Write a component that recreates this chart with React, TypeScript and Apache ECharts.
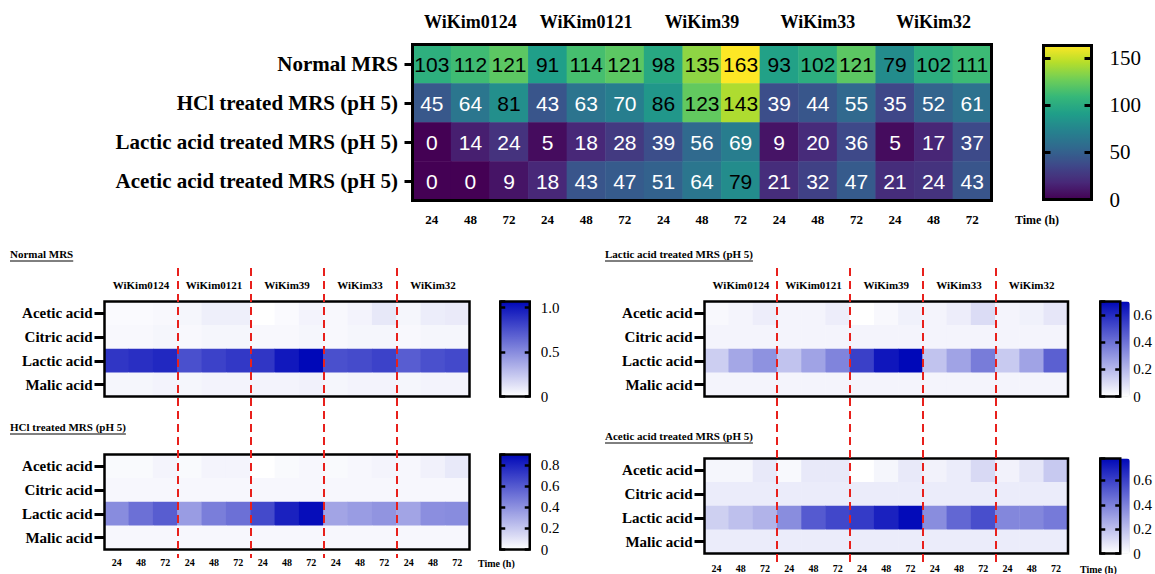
import React, { useEffect, useRef } from "react";
import * as echarts from "echarts";

// ---------------- DATA ----------------
const strains = ["WiKim0124", "WiKim0121", "WiKim39", "WiKim33", "WiKim32"];
const times = ["24", "48", "72"];
const media = [
  "Normal MRS",
  "HCl treated MRS (pH 5)",
  "Lactic acid treated MRS (pH 5)",
  "Acetic acid treated MRS (pH 5)",
];

// growth values (top heatmap), 15 columns = 5 strains x 3 times
const normalGrowth = [103, 112, 121, 91, 114, 121, 98, 135, 163, 93, 102, 121, 79, 102, 111];
const hclGrowth = [45, 64, 81, 43, 63, 70, 86, 123, 143, 39, 44, 55, 35, 52, 61];
const lacticGrowth = [0, 14, 24, 5, 18, 28, 39, 56, 69, 9, 20, 36, 5, 17, 37];
const aceticGrowth = [0, 0, 9, 18, 43, 47, 51, 64, 79, 21, 32, 47, 21, 24, 43];
const growthMax = 163;
const growthTickStep = 50;

const acids = ["Acetic acid", "Citric acid", "Lactic acid", "Malic acid"];

// Normal MRS organic acids
const normalAcetic = [0.02, 0.02, 0.03, 0.04, 0.07, 0.07, 0.0, 0.02, 0.05, 0.03, 0.05, 0.1, 0.04, 0.08, 0.09];
const normalCitric = [0.03, 0.03, 0.04, 0.03, 0.04, 0.04, 0.03, 0.03, 0.04, 0.03, 0.04, 0.04, 0.03, 0.04, 0.04];
const normalLactic = [0.87, 0.9, 0.93, 0.76, 0.82, 0.86, 0.87, 1.0, 1.07, 0.76, 0.78, 0.82, 0.7, 0.76, 0.79];
const normalMalic = [0.04, 0.04, 0.05, 0.04, 0.05, 0.05, 0.05, 0.05, 0.06, 0.04, 0.05, 0.05, 0.04, 0.05, 0.05];
const normalMax = 1.07;
const normalTickStep = 0.5;

// HCl treated MRS (pH 5)
const hclAcetic = [0.02, 0.02, 0.04, 0.02, 0.04, 0.04, 0.0, 0.02, 0.03, 0.02, 0.03, 0.04, 0.03, 0.05, 0.08];
const hclCitric = [0.03, 0.03, 0.03, 0.03, 0.03, 0.03, 0.03, 0.03, 0.03, 0.03, 0.03, 0.03, 0.03, 0.03, 0.03];
const hclLactic = [0.42, 0.52, 0.59, 0.36, 0.47, 0.52, 0.66, 0.81, 0.88, 0.33, 0.36, 0.39, 0.33, 0.41, 0.42];
const hclMalic = [0.03, 0.03, 0.03, 0.03, 0.03, 0.03, 0.03, 0.03, 0.03, 0.03, 0.03, 0.03, 0.03, 0.03, 0.03];
const hclMax = 0.9;
const hclTickStep = 0.2;

// Lactic acid treated MRS (pH 5)
const lacAcetic = [0.02, 0.03, 0.05, 0.03, 0.03, 0.05, 0.0, 0.02, 0.04, 0.03, 0.05, 0.1, 0.03, 0.04, 0.07];
const lacCitric = [0.03, 0.03, 0.03, 0.03, 0.03, 0.03, 0.03, 0.03, 0.03, 0.03, 0.03, 0.03, 0.03, 0.03, 0.03];
const lacLactic = [0.14, 0.25, 0.31, 0.17, 0.26, 0.35, 0.54, 0.66, 0.7, 0.17, 0.26, 0.37, 0.15, 0.26, 0.45];
const lacMalic = [0.03, 0.03, 0.03, 0.03, 0.03, 0.03, 0.03, 0.03, 0.03, 0.03, 0.03, 0.03, 0.03, 0.03, 0.03];
const lacMax = 0.7;
const lacTickStep = 0.2;

// Acetic acid treated MRS (pH 5)
const aceAcetic = [0.03, 0.03, 0.07, 0.02, 0.07, 0.07, 0.0, 0.03, 0.07, 0.04, 0.06, 0.12, 0.04, 0.08, 0.17];
const aceCitric = [0.06, 0.06, 0.06, 0.06, 0.06, 0.06, 0.06, 0.06, 0.06, 0.06, 0.06, 0.06, 0.06, 0.06, 0.06];
const aceLactic = [0.15, 0.2, 0.24, 0.36, 0.52, 0.58, 0.62, 0.7, 0.77, 0.36, 0.48, 0.56, 0.38, 0.38, 0.42];
const aceMalic = [0.06, 0.06, 0.06, 0.06, 0.06, 0.06, 0.06, 0.06, 0.06, 0.06, 0.06, 0.06, 0.06, 0.06, 0.06];
const aceMax = 0.78;
const aceTickStep = 0.2;

// ---------------- STYLE / LAYOUT ----------------
const SERIF = '"Liberation Serif", "Times New Roman", serif';
const SANS = '"Liberation Sans", Arial, sans-serif';
const viridis = ["#440154", "#482878", "#3e4989", "#31688e", "#26828e", "#1f9e89", "#35b779", "#6ece58", "#b5de2b", "#fde725"];
const blues = ["#ffffff", "#0008b8"];

const TOP_GRID = { left: 412.5, top: 44.5, width: 579, height: 156 };
const TOP_BAR = { left: 1043.5, top: 45.5, width: 48, height: 154 };

const panels = [
  {
    title: "Normal MRS", titleX: 10, titleY: 254,
    rows: [normalAcetic, normalCitric, normalLactic, normalMalic], max: normalMax, step: normalTickStep,
    grid: { left: 104.5, top: 301.5, width: 365, height: 95 },
    bar: { left: 500.25, top: 301.5, width: 29.5, height: 95 }, barMargin: 11,
    strainsOn: true, timesOn: false, timeMargin: 8,
  },
  {
    title: "HCl treated MRS (pH 5)", titleX: 10, titleY: 427,
    rows: [hclAcetic, hclCitric, hclLactic, hclMalic], max: hclMax, step: hclTickStep,
    grid: { left: 104.5, top: 454.5, width: 365, height: 95 },
    bar: { left: 500.25, top: 454.5, width: 29.5, height: 95 }, barMargin: 11,
    strainsOn: false, timesOn: true, timeMargin: 8, timeLabelX: 478,
  },
  {
    title: "Lactic acid treated MRS (pH 5)", titleX: 605, titleY: 254,
    rows: [lacAcetic, lacCitric, lacLactic, lacMalic], max: lacMax, step: lacTickStep,
    grid: { left: 704.5, top: 301.5, width: 363.5, height: 95 },
    bar: { left: 1100.25, top: 301.5, width: 29.5, height: 95 }, barMargin: 13,
    strainsOn: true, timesOn: false, timeMargin: 9,
  },
  {
    title: "Acetic acid treated MRS (pH 5)", titleX: 605, titleY: 436,
    rows: [aceAcetic, aceCitric, aceLactic, aceMalic], max: aceMax, step: aceTickStep,
    grid: { left: 704.5, top: 458.5, width: 363.5, height: 95 },
    bar: { left: 1100.25, top: 458.5, width: 29.5, height: 95 }, barMargin: 13,
    strainsOn: false, timesOn: true, timeMargin: 9.5, timeLabelX: 1080,
  },
];

const DASH_GRIDS = [
  { left: 104.5, top: 268, width: 365, height: 290 },
  { left: 704.5, top: 268, width: 363.5, height: 298 },
];

function measure(text: string, font: string): number {
  const c = document.createElement("canvas").getContext("2d");
  if (!c) return text.length * 5;
  c.font = font;
  return c.measureText(text).width;
}

function buildOption() {
  const grid: any[] = [];
  const xAxis: any[] = [];
  const yAxis: any[] = [];
  const series: any[] = [];
  const visualMap: any[] = [];
  const graphic: any[] = [];
  const columns = strains.flatMap((s) => times.map((t) => `${s}|${t}`));

  const lbl = (size: number, weight: string, margin: number) => ({
    fontFamily: SERIF, fontWeight: weight, fontSize: size, color: "#000", margin, interval: 0,
  });
  const noLine = { show: false };

  const addColorbar = (
    layout: any, max: number, step: number, lw: number, tickLen: number,
    fontSize: number, margin: number, fmt: (v: number) => string
  ) => {
    const gi = grid.push({ ...layout, show: true, backgroundColor: "transparent", borderColor: "#000", borderWidth: lw, z: 10 }) - 1;
    xAxis.push({ gridIndex: gi, type: "value", show: false });
    const common = {
      gridIndex: gi, type: "value", min: 0, max, interval: step,
      axisLine: noLine, splitLine: noLine, z: 11,
      axisTick: { show: true, inside: true, length: tickLen, lineStyle: { color: "#000", width: lw } },
    };
    yAxis.push({ ...common, position: "left", axisLabel: { show: false } });
    yAxis.push({
      ...common, position: "right",
      axisLabel: { show: true, showMaxLabel: false, fontFamily: SERIF, fontSize, color: "#000", margin, formatter: fmt },
    });
  };

  // ---------- top heatmap ----------
  const g0 = grid.push({ ...TOP_GRID, show: true, backgroundColor: "transparent", borderColor: "#000", borderWidth: 3, z: 10 }) - 1;
  const xTop = xAxis.push({
    gridIndex: g0, type: "category", data: columns, position: "bottom",
    axisLine: noLine, axisTick: noLine, splitLine: noLine,
    axisLabel: { ...lbl(13, "bold", 12), formatter: (v: string) => v.split("|")[1] },
  }) - 1;
  xAxis.push({
    gridIndex: g0, type: "category", data: strains, position: "top",
    axisLine: noLine, axisTick: noLine, splitLine: noLine, axisLabel: lbl(18, "bold", 14),
  });
  const yTop = yAxis.push({
    gridIndex: g0, type: "category", data: media, inverse: true,
    axisLine: noLine, splitLine: noLine,
    axisTick: { show: true, alignWithLabel: true, length: 8, lineStyle: { color: "#000", width: 3 } },
    axisLabel: lbl(21, "bold", 14.5),
  }) - 1;
  const growth = [normalGrowth, hclGrowth, lacticGrowth, aceticGrowth];
  const topData: any[] = [];
  growth.forEach((row, r) =>
    row.forEach((v, c) => topData.push({ value: [c, r, v], label: { color: v >= 75 ? "#000" : "#fff" } }))
  );
  const sTop = series.push({
    type: "heatmap", xAxisIndex: xTop, yAxisIndex: yTop, data: topData,
    label: { show: true, fontFamily: SANS, fontSize: 21, formatter: (p: any) => String(p.value[2]) },
    emphasis: { disabled: true },
  }) - 1;
  visualMap.push({
    type: "continuous", seriesIndex: sTop, min: 0, max: growthMax, inRange: { color: viridis },
    calculable: false, orient: "vertical", left: TOP_BAR.left, top: TOP_BAR.top,
    itemWidth: TOP_BAR.width, itemHeight: TOP_BAR.height, padding: 0, hoverLink: false,
  });
  addColorbar(TOP_BAR, growthMax, growthTickStep, 3, 7, 21, 18, (v) => String(v));
  graphic.push({
    type: "text", x: 1015, y: 220,
    style: { text: "Time (h)", font: `bold 12px ${SERIF}`, fill: "#000", verticalAlign: "middle" },
  });

  // ---------- lower panels ----------
  panels.forEach((p) => {
    const gi = grid.push({ ...p.grid, show: true, backgroundColor: "transparent", borderColor: "#000", borderWidth: 2.5, z: 10 }) - 1;
    const xi = xAxis.push({
      gridIndex: gi, type: "category", data: columns, position: "bottom",
      axisLine: noLine, axisTick: noLine, splitLine: noLine,
      axisLabel: { ...lbl(10, "bold", p.timeMargin), show: p.timesOn, formatter: (v: string) => v.split("|")[1] },
    }) - 1;
    xAxis.push({
      gridIndex: gi, type: "category", data: strains, position: "top",
      axisLine: noLine, axisTick: noLine, splitLine: noLine,
      axisLabel: { ...lbl(11, "bold", 11), show: p.strainsOn },
    });
    const yi = yAxis.push({
      gridIndex: gi, type: "category", data: acids, inverse: true,
      axisLine: noLine, splitLine: noLine,
      axisTick: { show: true, alignWithLabel: true, length: 10, lineStyle: { color: "#000", width: 3 } },
      axisLabel: lbl(15, "bold", 12),
    }) - 1;
    const data: any[] = [];
    p.rows.forEach((row, r) => row.forEach((v, c) => data.push([c, r, v])));
    const si = series.push({
      type: "heatmap", xAxisIndex: xi, yAxisIndex: yi, data, emphasis: { disabled: true },
    }) - 1;
    visualMap.push({
      type: "continuous", seriesIndex: si, min: 0, max: p.max, inRange: { color: blues },
      calculable: false, orient: "vertical", left: p.bar.left, top: p.bar.top,
      itemWidth: p.bar.width, itemHeight: p.bar.height, padding: 0, hoverLink: false,
    });
    addColorbar(p.bar, p.max, p.step, 2.5, 5, 15, p.barMargin, (v) => (v === 0 ? "0" : v.toFixed(1)));

    const font = `bold 11px ${SERIF}`;
    const w = measure(p.title, font);
    graphic.push({
      type: "text", x: p.titleX, y: p.titleY,
      style: { text: p.title, font, fill: "#000", verticalAlign: "middle" },
    });
    graphic.push({
      type: "line", shape: { x1: p.titleX, y1: p.titleY + 7, x2: p.titleX + w, y2: p.titleY + 7 },
      style: { stroke: "#000", lineWidth: 1 },
    });
    if (p.timesOn) {
      graphic.push({
        type: "text", x: (p as any).timeLabelX, y: p.grid.top + p.grid.height + p.timeMargin + 6,
        style: { text: "Time (h)", font: `bold 10px ${SERIF}`, fill: "#000", verticalAlign: "middle" },
      });
    }
  });

  // ---------- red dashed strain separators ----------
  DASH_GRIDS.forEach((d) => {
    const gi = grid.push({ ...d }) - 1;
    xAxis.push({
      gridIndex: gi, type: "category", data: columns, z: 12,
      axisLine: noLine, axisTick: noLine, axisLabel: { show: false },
      splitLine: {
        show: true, showMinLine: true, showMaxLine: false,
        interval: (i: number) => i > 0 && i % 3 === 0,
        lineStyle: { color: "#e8201c", width: 2, type: [8, 5] },
      },
    });
    yAxis.push({ gridIndex: gi, type: "value", show: false });
  });

  return { animation: false, backgroundColor: "#fff", grid, xAxis, yAxis, series, visualMap, graphic };
}

export default function App() {
  const ref = useRef<HTMLDivElement>(null);
  useEffect(() => {
    if (!ref.current) return;
    const chart = echarts.init(ref.current, null, { renderer: "svg" });
    chart.setOption(buildOption() as any);
    return () => chart.dispose();
  }, []);
  return (
    <div
      ref={ref}
      style={{ position: "fixed", left: 0, top: 0, width: 1155, height: 574, background: "#fff" }}
    />
  );
}
